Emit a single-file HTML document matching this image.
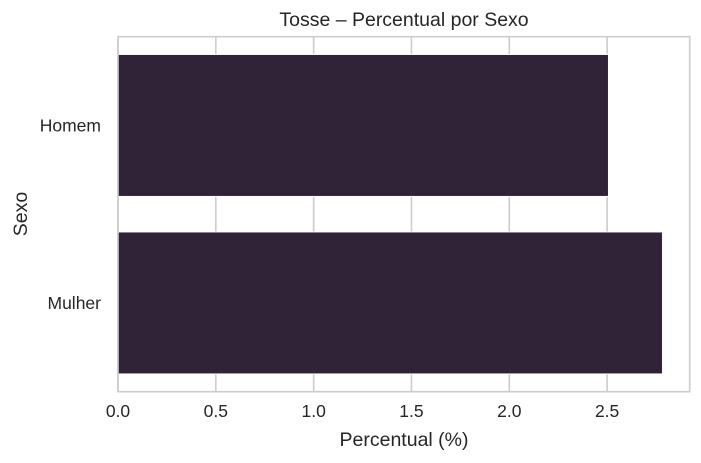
<!DOCTYPE html>
<html><head><meta charset="utf-8"><style>
html,body{margin:0;padding:0;background:#fff;}
svg{display:block;font-family:"Liberation Sans","DejaVu Sans",sans-serif;}
</style></head><body>
<svg id="chart" width="701" height="463" viewBox="0 0 701 463">
<rect x="0" y="0" width="701" height="463" fill="#fff"/>
<g id="grid"></g>
<g id="bars"></g>
<rect x="118" y="36.7" width="571.7" height="355" fill="none" stroke="#cccccc" stroke-width="1.6"/>
<g id="xticks"></g>
<g id="yticks"></g>
<text x="404" y="26" text-anchor="middle" font-size="19.5" fill="#262626">Tosse – Percentual por Sexo</text>
<text x="404" y="446" text-anchor="middle" font-size="19.5" fill="#262626">Percentual (%)</text>
<text x="0" y="0" transform="translate(27,214) rotate(-90)" text-anchor="middle" font-size="19.5" fill="#262626">Sexo</text>
</svg>
<script>
const categories = ["Homem", "Mulher"];
const values = [2.507, 2.783];
const xTicks = [0, 0.5, 1.0, 1.5, 2.0, 2.5];
const xTickLabels = ["0.0", "0.5", "1.0", "1.5", "2.0", "2.5"];

const NS = "http://www.w3.org/2000/svg";
const L = 118, R = 689.7, T = 36.7, B = 391.7;
const xMax = Math.max(...values) * 1.05;
const xs = v => L + (v / xMax) * (R - L);
const band = (B - T) / categories.length;
const yc = i => T + band * (i + 0.5);
const bw = band * 0.8;

function mk(tag, attrs, parent) {
  const el = document.createElementNS(NS, tag);
  for (const k in attrs) el.setAttribute(k, attrs[k]);
  parent.appendChild(el);
  return el;
}
const grid = document.getElementById('grid');
const barsG = document.getElementById('bars');
const xt = document.getElementById('xticks');
const yt = document.getElementById('yticks');

xTicks.forEach((t, i) => {
  const x = xs(t);
  const ln = mk('line', {x1: x, x2: x, y1: T, y2: B, stroke: '#cccccc', 'stroke-width': 1.6}, grid);
  
  
  const tx = mk('text', {x: x, y: 417, 'text-anchor': 'middle', 'font-size': 17.5, fill: '#262626'}, xt);
  tx.textContent = xTickLabels[i];
  
  
});

categories.forEach((c, i) => {
  const r = mk('rect', {x: L, y: yc(i) - bw / 2, width: xs(values[i]) - L, height: bw, fill: '#302337', stroke: '#ffffff', 'stroke-width': 1}, barsG);
  
  
  const tx = mk('text', {x: 101, y: yc(i) + 6, 'text-anchor': 'end', 'font-size': 17.5, fill: '#262626'}, yt);
  tx.textContent = c;
  
  
});
</script>
</body></html>
